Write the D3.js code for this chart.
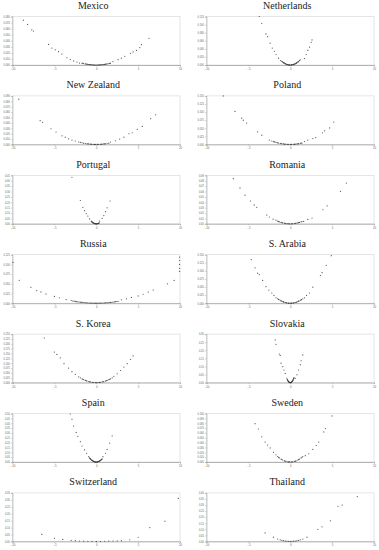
<!DOCTYPE html>
<html>
<head>
<meta charset="utf-8">
<script src="https://cdn.jsdelivr.net/npm/d3@7"></script>
<style>
  body { margin: 0; background: #fff; }
  svg { display: block; }
</style>
</head>
<body>
<svg id="chart" width="379" height="550"></svg>
<script>
// country panels, in reading order
const countries = ['Mexico', 'Netherlands', 'New Zealand', 'Poland', 'Portugal', 'Romania', 'Russia',
  'S. Arabia', 'S. Korea', 'Slovakia', 'Spain', 'Sweden', 'Switzerland', 'Thailand'];

const xTicks = [-10, -5, 0, 5, 10];

// top of each y axis (tick step, number of steps)
const yStep = [0.01, 0.02, 0.01, 0.025, 0.05, 0.01, 0.025, 0.025, 0.025, 0.05, 0.05, 0.01, 0.05, 0.05];
const yCount = [8, 6, 9, 6, 9, 9, 5, 6, 10, 6, 10, 10, 7, 8];
const yDigits = [3, 3, 3, 3, 2, 2, 3, 3, 3, 2, 2, 3, 2, 2];

// [x, y] points
const mexico = [[-8.7, .074], [-8.2, .067], [-7.7, .058], [-7.5, .056], [-5.7, .034], [-5.3, .028], [-4.9, .025],
  [-4.5, .022], [-4.1, .018], [-3.5, .012], [-3.1, .009], [-2.7, .0068], [-2.3, .0048], [-2.0, .0032],
  [-1.7, .003], [-1.6, .0027], [-1.5, .0023], [-1.3, .0018], [-1.2, .0015], [-1.1, .0013], [-1.0, .001], [-0.9, .0008],
  [-0.8, .0007], [-0.7, .0005], [-0.6, .0004], [-0.5, .0003], [-0.4, .0002], [-0.3, .0001], [-0.2, 0], [-0.1, 0],
  [0, 0], [0.1, 0], [0.2, 0], [0.3, .0001], [0.4, .0002], [0.5, .0003], [0.6, .0004], [0.7, .0005], [0.8, .0007],
  [0.9, .0008], [1.0, .001], [1.1, .0013], [1.2, .0015], [1.3, .0018], [1.5, .0023], [1.6, .0027], [1.7, .003],
  [2.0, .0056], [2.6, .0088], [3.0, .0112], [3.4, .0144], [4.1, .0192], [4.4, .0216], [4.8, .024], [5.2, .0288],
  [5.4, .0336], [6.3, .044]];

const netherlands = [[-3.7, .12], [-3.4, .103], [-2.9, .077], [-2.7, .07], [-2.4, .054], [-2.15, .042], [-1.9, .034],
  [-1.7, .026], [-1.4, .017], [-1.15, .011], [-1.0, .009], [-0.95, .0081], [-0.9, .0073], [-0.8, .0058], [-0.75, .0051],
  [-0.7, .0044], [-0.6, .0032], [-0.55, .0027], [-0.5, .0023], [-0.4, .0014], [-0.35, .0011], [-0.3, .0008],
  [-0.2, .0004], [-0.15, .0002], [-0.1, .0001], [0, 0], [0.1, .0001], [0.15, .0002], [0.2, .0004], [0.3, .0008],
  [0.35, .0011], [0.4, .0014], [0.5, .0023], [0.55, .0027], [0.6, .0032], [0.7, .0044], [0.75, .0051], [0.8, .0058],
  [0.9, .0073], [0.95, .0081], [1.0, .009], [1.1, .0109], [1.2, .013], [1.7, .016], [1.9, .026], [2.1, .036],
  [2.3, .044], [2.5, .056], [2.6, .062]];

const newZealand = [[-9.25, .084], [-6.7, .044], [-6.4, .041], [-5.4, .029], [-4.8, .023], [-4.1, .016], [-3.7, .0135],
  [-3.3, .0104], [-2.9, .0081], [-2.5, .0063], [-2.1, .0045], [-1.9, .0036], [-1.7, .0029], [-1.5, .0023],
  [-1.3, .0017], [-1.1, .0012], [-1.0, .001], [-0.9, .0008], [-0.7, .0005], [-0.6, .0004], [-0.5, .0003],
  [-0.3, .0001], [-0.2, 0], [-0.1, 0], [0.1, 0], [0.2, 0], [0.3, .0001], [0.5, .0003], [0.6, .0004], [0.7, .0005],
  [0.9, .0008], [1.0, .001], [1.1, .0012], [1.3, .0017], [1.5, .0023], [1.7, .0045], [2.3, .0068], [2.8, .0099],
  [3.3, .0135], [3.9, .0198], [4.3, .0216], [4.9, .0279], [5.5, .0333], [6.5, .0477], [7.1, .0549]];

const poland = [[-8.0, .15], [-6.6, .102], [-5.8, .081], [-5.6, .075], [-5.2, .066], [-3.9, .039], [-3.4, .0285],
  [-2.5, .0135], [-2.2, .0105], [-2.0, .0088], [-1.9, .0079], [-1.8, .0071], [-1.6, .0056], [-1.5, .005],
  [-1.4, .0043], [-1.2, .0032], [-1.1, .0027], [-1.0, .0022], [-0.8, .0014], [-0.7, .0011], [-0.6, .0008],
  [-0.4, .0004], [-0.3, .0002], [-0.2, .0001], [0, 0], [0.1, 0], [0.2, .0001], [0.4, .0004], [0.5, .0006],
  [0.6, .0008], [0.8, .0014], [0.9, .0018], [1.0, .0022], [1.2, .0032], [1.3, .0037], [1.4, .0043], [1.7, .009],
  [2.1, .0135], [2.7, .018], [3.05, .021], [3.85, .036], [4.1, .042], [4.7, .051], [5.2, .069]];

const portugal = [[-2.9, .432], [-1.9, .216], [-1.6, .153], [-1.4, .1215], [-1.2, .0945], [-1.0, .072], [-0.8, .045],
  [-0.6, .025], [-0.55, .02], [-0.5, .017], [-0.45, .0137], [-0.4, .0108], [-0.35, .0083], [-0.3, .0061],
  [-0.25, .0042], [-0.2, .0027], [-0.15, .0015], [-0.1, .0007], [-0.05, .0002], [0, 0], [0.05, .0002], [0.1, .0007],
  [0.15, .0015], [0.2, .0027], [0.25, .0042], [0.3, .0061], [0.35, .0083], [0.4, .025], [0.7, .0495], [0.9, .0765],
  [1.1, .1125], [1.3, .1485], [1.65, .2115]];

const romania = [[-6.8, .0837], [-6.0, .0666], [-5.4, .0531], [-4.75, .0423], [-4.3, .0351], [-4.0, .0306],
  [-2.8, .0162], [-2.5, .0126], [-2.05, .0086], [-1.7, .0068], [-1.5, .0049], [-1.4, .0042], [-1.3, .0037],
  [-1.1, .0026], [-1.0, .0022], [-0.9, .0017], [-0.7, .0011], [-0.6, .0008], [-0.5, .0005], [-0.3, .0002],
  [-0.2, .0001], [-0.1, 0], [0.1, 0], [0.2, .0001], [0.3, .0002], [0.5, .0005], [0.6, .0008], [0.7, .0011],
  [0.9, .0017], [1.0, .0022], [1.1, .0026], [1.3, .0037], [1.4, .0042], [1.6, .0045], [2.1, .0081], [2.6, .0108],
  [3.9, .0261], [4.4, .0333], [6.0, .0603], [6.7, .0756]];

const russia = [[-9.95, .105], [-9.2, .059], [-7.8, .041], [-7.1, .0325], [-6.6, .029], [-6.0, .024], [-5.0, .0175],
  [-4.4, .014], [-3.6, .0094], [-3.0, .0069], [-2.8, .0057], [-2.65, .0051], [-2.5, .0046], [-2.35, .004],
  [-2.2, .0035], [-2.05, .0031], [-1.9, .0026], [-1.75, .0022], [-1.6, .0019], [-1.45, .0015], [-1.3, .0012],
  [-1.15, .001], [-1.0, .0007], [-0.85, .0005], [-0.7, .0004], [-0.55, .0002], [-0.4, .0001], [-0.25, 0], [-0.1, 0],
  [0.05, 0], [0.2, 0], [0.35, .0001], [0.5, .0002], [0.65, .0003], [0.8, .0005], [0.95, .0007], [1.1, .0009],
  [1.25, .0011], [1.4, .0014], [1.55, .0018], [1.7, .0021], [1.85, .0025], [2.0, .0029], [2.15, .0034],
  [2.3, .0039], [2.45, .0044], [2.6, .0049], [3.0, .0088], [3.6, .0113], [4.2, .015], [5.0, .0188], [5.6, .0231],
  [6.2, .0288], [6.8, .0338], [8.5, .05], [9.3, .0588], [9.95, .119], [9.95, .11], [9.95, .1], [9.95, .09], [9.95, .082]];

const sArabia = [[-4.65, .135], [-4.2, .1095], [-3.9, .093], [-3.7, .0885], [-3.3, .0705], [-2.9, .051], [-2.55, .0405],
  [-2.2, .0315], [-1.95, .024], [-1.7, .0165], [-1.5, .0138], [-1.4, .0121], [-1.35, .0112], [-1.2, .0089],
  [-1.1, .0074], [-1.05, .0068], [-0.9, .005], [-0.8, .0039], [-0.75, .0035], [-0.6, .0022], [-0.5, .0015],
  [-0.45, .0012], [-0.3, .0006], [-0.2, .0002], [-0.15, .0001], [0, 0], [0.1, 0], [0.15, .0001], [0.3, .0006],
  [0.4, .001], [0.45, .0012], [0.6, .0022], [0.7, .003], [0.75, .0035], [0.9, .005], [1.0, .0062], [1.05, .0068],
  [1.2, .0089], [1.3, .0104], [1.35, .0112], [1.5, .0138], [1.7, .0165], [1.95, .024], [2.3, .0315], [2.7, .0495],
  [3.6, .0855], [3.8, .0945], [4.3, .117], [4.9, .147]];

const sKorea = [[-6.2, .23], [-5.0, .1575], [-4.7, .145], [-4.3, .1275], [-3.85, .0975], [-3.3, .075], [-2.9, .0563],
  [-2.5, .0425], [-2.1, .03], [-1.9, .0244], [-1.7, .0195], [-1.6, .0173], [-1.5, .0152], [-1.3, .0114],
  [-1.2, .0097], [-1.1, .0082], [-0.9, .0055], [-0.8, .0043], [-0.7, .0033], [-0.5, .0017], [-0.4, .0011],
  [-0.3, .0006], [-0.1, .0001], [0, 0], [0.1, .0001], [0.3, .0006], [0.4, .0011], [0.5, .0017], [0.7, .0033],
  [0.8, .0043], [0.9, .0055], [1.1, .0082], [1.2, .0097], [1.3, .0114], [1.5, .0152], [1.6, .0173], [1.7, .0195],
  [1.9, .0244], [2.1, .0325], [2.5, .045], [2.9, .0625], [3.3, .08], [3.7, .0975], [4.1, .12], [4.4, .1375]];

const slovakia = [[-1.8, .264], [-1.7, .237], [-1.3, .177], [-1.2, .168], [-1.1, .12], [-0.9, .099], [-0.75, .078],
  [-0.6, .057], [-0.4, .027], [-0.35, .0184], [-0.32, .0154], [-0.3, .0135], [-0.25, .0094], [-0.22, .0073],
  [-0.2, .006], [-0.15, .0034], [-0.12, .0022], [-0.1, .0015], [-0.05, .0004], [0, 0], [0.02, 0], [0.05, .0004],
  [0.1, .0015], [0.12, .0022], [0.15, .0034], [0.2, .006], [0.22, .0073], [0.25, .0094], [0.3, .0135],
  [0.32, .0154], [0.35, .0184], [0.4, .024], [0.42, .0265], [0.45, .0304], [0.6, .027], [0.8, .048], [1.0, .078],
  [1.2, .111], [1.3, .135], [1.5, .171]];

const spain = [[-3.1, .495], [-2.9, .44], [-2.7, .37], [-2.4, .305], [-2.2, .265], [-1.9, .21], [-1.7, .165],
  [-1.4, .125], [-1.15, .09], [-0.9, .055], [-0.8, .0416], [-0.75, .0366], [-0.7, .0319], [-0.65, .0275],
  [-0.6, .0234], [-0.55, .0197], [-0.5, .0163], [-0.45, .0132], [-0.4, .0104], [-0.35, .008], [-0.3, .0059],
  [-0.25, .0041], [-0.2, .0026], [-0.15, .0015], [-0.1, .0007], [-0.05, .0002], [0, 0], [0.05, .0002], [0.1, .0007],
  [0.15, .0015], [0.2, .0026], [0.25, .0041], [0.3, .0059], [0.35, .008], [0.4, .0104], [0.45, .0132],
  [0.5, .0163], [0.55, .0197], [0.6, .0234], [0.65, .0275], [0.7, .0319], [0.8, .055], [1.1, .09], [1.3, .13],
  [1.6, .195], [1.9, .27]];

const sweden = [[-4.2, .079], [-3.8, .068], [-3.4, .052], [-3.0, .041], [-2.7, .035], [-2.4, .029], [-2.0, .02],
  [-1.7, .015], [-1.5, .0113], [-1.4, .0098], [-1.3, .0085], [-1.1, .0061], [-1.0, .005], [-0.9, .0041],
  [-0.7, .0025], [-0.6, .0018], [-0.5, .0013], [-0.3, .0005], [-0.2, .0002], [-0.1, .0001], [0.1, .0001],
  [0.2, .0002], [0.3, .0005], [0.5, .0013], [0.6, .0018], [0.7, .0025], [0.9, .0041], [1.0, .005], [1.1, .0061],
  [1.3, .0085], [1.4, .0098], [1.5, .0113], [1.8, .013], [2.2, .017], [2.7, .026], [3.1, .034], [3.4, .041],
  [4.0, .062], [4.2, .069], [5.0, .095]];

const switzerland = [[-6.5, .05], [-5.0, .022], [-4.0, .014], [-3.0, .008], [-2.5, .005], [-2.0, .003], [-1.5, .002],
  [-1.0, .001], [-0.5, .0005], [0, 0], [0.5, .0005], [1.0, .001], [1.5, .002], [2.0, .003], [2.5, .004],
  [3.0, .006], [4.0, .012], [5.0, .03], [6.4, .1], [8.2, .146], [9.8, .31]];

const thailand = [[-3.0, .07], [-2.0, .035], [-1.5, .02], [-1.2, .013], [-1.0, .009], [-0.8, .006], [-0.6, .003],
  [-0.4, .0015], [-0.2, .0004], [0, 0], [0.2, .0004], [0.4, .0015], [0.6, .003], [0.8, .006], [1.0, .009],
  [1.2, .013], [1.5, .02], [2.0, .035], [3.3, .1], [3.8, .12], [4.8, .17], [5.7, .29], [6.2, .3], [8.0, .37]];

const seriesList = [mexico, netherlands, newZealand, poland, portugal, romania, russia,
  sArabia, sKorea, slovakia, spain, sweden, switzerland, thailand];

const svg = d3.select('#chart');

const colLeft = [12.5, 206.5];
const colRight = [180, 374];
const rowTop = 16.5;
const rowPitch = 79.4;
const plotH = 48.5;

countries.forEach(function(name, i) {
  const col = i % 2;
  const row = Math.floor(i / 2);
  const top = rowTop + row * rowPitch;
  const x0 = colLeft[col];
  const x1 = colRight[col];

  const x = d3.scaleLinear().domain([-10, 10]).range([x0, x1]);
  const yMax = yStep[i] * yCount[i];
  const y = d3.scaleLinear().domain([0, yMax]).range([top + plotH, top]);
  const yTicks = d3.range(yCount[i] + 1).map(function(k) { return k * yStep[i]; });

  const g = svg.append('g').attr('class', 'panel');

  // title
  g.append('text')
    .attr('x', (x0 + x1) / 2 - 3)
    .attr('y', top - 7.5)
    .attr('text-anchor', 'middle')
    .style('font-family', '"Liberation Serif", "DejaVu Serif", serif')
    .style('font-size', '10px')
    .style('fill', '#222')
    .text(name);

  // frame
  g.append('rect')
    .attr('x', x0)
    .attr('y', top)
    .attr('width', x1 - x0)
    .attr('height', plotH)
    .style('fill', 'none')
    .style('stroke', '#d4d4d4')
    .style('stroke-width', 0.6);

  // y axis
  const yAxis = d3.axisLeft(y)
    .tickValues(yTicks)
    .tickSize(1.5)
    .tickPadding(1)
    .tickFormat(d3.format('.' + yDigits[i] + 'f'));
  const ga = g.append('g').attr('transform', `translate(${x0},0)`).call(yAxis);
  ga.select('.domain').style('stroke', '#999').style('stroke-width', 0.5);
  ga.selectAll('.tick line').style('stroke', '#999').style('stroke-width', 0.4);
  ga.selectAll('text').style('font-size', '2.6px').style('fill', '#666').style('font-family', 'Arial, sans-serif');

  // x axis
  const xAxis = d3.axisBottom(x)
    .tickValues(xTicks)
    .tickSize(1.5)
    .tickPadding(1.5)
    .tickFormat(d3.format('d'));
  const gx = g.append('g').attr('transform', `translate(0,${top + plotH})`).call(xAxis);
  gx.select('.domain').style('stroke', '#888').style('stroke-width', 0.6);
  gx.selectAll('.tick line').style('stroke', '#999').style('stroke-width', 0.4);
  gx.selectAll('text').style('font-size', '2.8px').style('fill', '#666').style('font-family', 'Arial, sans-serif');

  // points
  g.selectAll('.pt')
    .data(seriesList[i])
    .enter()
    .append('circle')
    .attr('class', 'pt')
    .attr('cx', function(d) { return x(d[0]); })
    .attr('cy', function(d) { return y(d[1]); })
    .attr('r', 0.6)
    .style('fill', '#333')
    .style('fill-opacity', 0.85);
});
</script>
</body>
</html>
